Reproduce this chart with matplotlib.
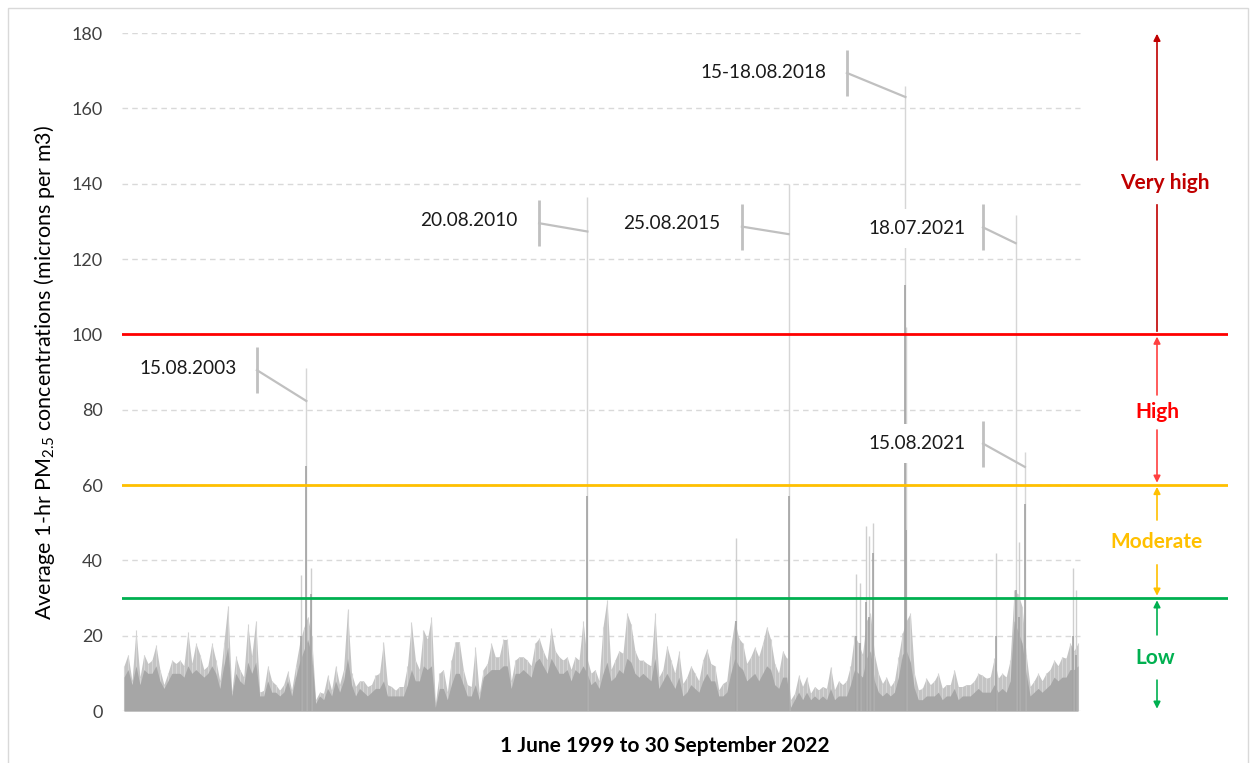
import datetime as dt
import numpy as np
import matplotlib
matplotlib.use("Agg")
import matplotlib.pyplot as plt
from matplotlib.patches import Rectangle

plt.rcParams['font.family'] = ['Lato', 'DejaVu Sans']
plt.rcParams['mathtext.fontset'] = 'custom'
plt.rcParams['mathtext.rm'] = 'Lato'
plt.rcParams['mathtext.it'] = 'Lato:italic'
plt.rcParams['mathtext.bf'] = 'Lato:bold'

# ---------------- data ----------------
season_start = 1999          # each season = 1 June .. 30 September (122 days)
n_seasons = 24
slots_per_season = 10

# upper envelope of hourly values (light grey tips), 10 slots per season
peak_levels = [
    12, 15, 8, 21.5, 9, 15, 12.6, 13.5, 17.5, 11,        # 1999
    7, 10, 13.5, 12.6, 13.5, 12, 21, 12.6, 18, 15,       # 2000
    11, 12, 18, 13.5, 8, 18, 28, 5, 14.5, 11,            # 2001
    9, 23, 14.5, 24, 5, 5.5, 12, 8, 7, 5.5,              # 2002
    7, 10.5, 5.5, 12, 18, 22, 25, 20, 3, 5,              # 2003
    4.7, 9.5, 5.5, 12, 7, 11, 27, 10, 6.5, 8,            # 2004
    8, 6.5, 7, 9.5, 10, 18.4, 7, 6.5, 5.5, 6.5,          # 2005
    6.5, 12, 23.5, 13.5, 11, 21.5, 19, 25, 2, 10,        # 2006
    11, 5, 13.5, 18.4, 18.4, 11, 7, 6.5, 17, 4.7,        # 2007
    11, 12.6, 18, 14.4, 14.4, 19, 19, 8, 13.5, 14.4,     # 2008
    14.4, 13.5, 12, 18, 19.3, 16, 13.5, 22, 16, 14.4,    # 2009
    13.5, 14.4, 11, 14.4, 13.5, 24, 14, 10, 11, 8,       # 2010
    22.4, 29.6, 11, 13.5, 16, 15.3, 26, 23, 16, 13.5,    # 2011
    13.5, 12.6, 12, 26, 9, 11, 17.3, 13.5, 10, 15.8,     # 2012
    7.3, 9, 12, 10, 8, 13.5, 16.4, 12.6, 12, 5.6,        # 2013
    7.3, 8, 17, 24, 19.3, 18, 12.6, 14.4, 17, 14.4,      # 2014
    18, 22.4, 19, 12.6, 10, 16, 14, 3, 4.7, 9.5,         # 2015
    6.5, 9, 4.7, 6.5, 5.6, 6.5, 6, 11.8, 5.6, 8,         # 2016
    7, 8, 12, 20, 18, 15, 24, 26, 15, 10,                # 2017
    7.3, 9, 6.5, 8, 14.4, 20.6, 24, 26, 10, 5.6,         # 2018
    6, 8.7, 7, 8, 10, 6, 7, 7, 11, 6.5,                  # 2019
    6.5, 7, 7, 8, 10, 9.5, 8.7, 9, 14, 8.7,              # 2020
    10, 9, 13.5, 32, 31, 27.7, 15, 6.5, 8, 10,           # 2021
    8, 10, 11, 13.5, 12, 14.4, 14, 18, 16, 18,           # 2022
]

# typical level (solid mid-grey body), same slots
typical_levels = [
    9, 11, 7, 12, 7, 11, 10, 10, 12, 8,    # 1999
    6, 8, 10, 10, 10, 9, 12, 10, 11, 10,   # 2000
    9, 10, 12, 10, 6, 12, 17, 4, 10, 8,    # 2001
    7, 13, 10, 13, 4, 4, 8, 5, 5, 4,       # 2002
    5, 8, 4, 9, 13, 16, 19, 15, 2, 4,      # 2003
    3, 6, 4, 8, 5, 8, 14, 7, 4, 6,         # 2004
    5, 4, 5, 6, 6, 8, 4, 4, 4, 4,          # 2005
    4, 7, 11, 8, 8, 12, 11, 12, 1, 6,      # 2006
    6, 3, 7, 10, 10, 7, 4, 4, 7, 3,        # 2007
    9, 10, 11, 11, 11, 12, 12, 6, 10, 10,  # 2008
    11, 10, 9, 13, 14, 12, 10, 14, 12, 10, # 2009
    10, 11, 8, 11, 10, 12, 10, 7, 8, 6,    # 2010
    10, 13, 8, 9, 11, 10, 14, 13, 10, 9,   # 2011
    10, 9, 8, 14, 6, 8, 10, 8, 6, 9,       # 2012
    4, 5, 7, 6, 5, 8, 10, 8, 8, 4,         # 2013
    4, 5, 10, 14, 12, 11, 8, 9, 10, 8,     # 2014
    10, 12, 11, 7, 6, 9, 9, 1, 3, 5,       # 2015
    3, 5, 3, 4, 3, 4, 3, 6, 3, 4,          # 2016
    4, 4, 7, 11, 10, 9, 14, 16, 8, 5,      # 2017
    4, 5, 4, 5, 9, 15, 16, 13, 6, 3,       # 2018
    3, 4, 4, 4, 5, 3, 4, 4, 6, 3,          # 2019
    4, 4, 4, 5, 6, 5, 5, 5, 7, 5,          # 2020
    6, 5, 8, 24, 21, 18, 10, 4, 5, 6,      # 2021
    5, 6, 7, 9, 8, 9, 9, 11, 11, 12,       # 2022
]

# labelled smoke events
event_dates = ['2003-08-15', '2010-08-20', '2015-08-25', '2018-08-16', '2021-07-18', '2021-08-15']
event_labels = ['15.08.2003', '20.08.2010', '25.08.2015', '15-18.08.2018', '18.07.2021', '15.08.2021']
event_max = [91, 136.5, 140, 166, 131.7, 68.8]
event_core = [65, 57, 57, 113, 32, 55]

# other short spikes
spike_dates = ['2003-07-30', '2003-08-30', '2014-07-16', '2017-07-18', '2017-07-30',
               '2017-08-18', '2017-08-27', '2017-09-08', '2018-08-19', '2020-09-17',
               '2021-07-28', '2022-09-08', '2022-09-19']
spike_max = [36, 38, 46, 36.5, 34, 49, 46.5, 50, 102, 42, 45, 38, 32]
spike_core = [20, 31, 24, 20, 18, 29, 25, 42, 48, 20, 25, 20, 15]

thresholds = [30, 60, 100]
threshold_colors = ['#00b050', '#ffc000', '#ff0000']
y_ticks = list(range(0, 181, 20))

# ---------------- layout ----------------
W, H = 1250, 763
px_per_season = 958 / n_seasons
ax_left_px, ax_right_px, ax_top_px, ax_bottom_px = 122, 1228, 33, 711

def season_pos(date_str):
    d = dt.date.fromisoformat(date_str)
    start = dt.date(d.year, 6, 1)
    return (d.year - season_start) + ((d - start).days + 0.5) / 122.0

fig = plt.figure(figsize=(W / 100, H / 100), dpi=100)
ax = fig.add_axes([ax_left_px / W, (H - ax_bottom_px) / H,
                   (ax_right_px - ax_left_px) / W, (ax_bottom_px - ax_top_px) / H])
x_max = (ax_right_px - ax_left_px) / px_per_season
ax.set_xlim(0, x_max)
ax.set_ylim(0, 180)
for s in ax.spines.values():
    s.set_visible(False)
ax.set_xticks([])
ax.set_yticks(y_ticks)
ax.tick_params(axis='y', length=0, pad=14, labelsize=13, labelcolor='#404040')

# gridlines
ax.hlines(y_ticks, 0, n_seasons, colors='#d9d9d9', linestyles=(0, (4, 3)), lw=1, zorder=0)

# series
x = (np.arange(len(peak_levels)) + 0.5) / slots_per_season
ax.fill_between(x, peak_levels, color='#c4c4c4', lw=0, zorder=1)
ax.vlines(x, 0, peak_levels, colors='#d4d4d4', lw=0.8, zorder=1.5)
ax.fill_between(x, typical_levels, color='#a6a6a6', lw=0, zorder=2)

sp = [season_pos(d) for d in spike_dates]
ax.vlines(sp, 0, spike_max, colors='#cfcfcf', lw=1, zorder=2)
ax.vlines(sp, 0, spike_core, colors='#a0a0a0', lw=1.1, zorder=3)
ep = [season_pos(d) for d in event_dates]
ax.vlines(ep, 0, event_max, colors='#d6d6d6', lw=1, zorder=2)
ax.vlines(ep, 0, event_core, colors='#a3a3a3', lw=1.2, zorder=3)

# thresholds
for t, c in zip(thresholds, threshold_colors):
    ax.axhline(t, color=c, lw=2, zorder=4)

# callouts: (text x, text y, tab x, tab mid y, leader end y) in data units
callouts = [
    (1.65, 90.8, 3.38, 90.5, 82.3),
    (8.69, 130.1, 10.45, 129.5, 127.3),
    (13.78, 129.3, 15.53, 128.6, 126.6),
    (16.06, 169.4, 18.16, 169.4, 163.0),
    (19.92, 128.0, 21.57, 128.4, 124.2),
    (19.92, 70.9, 21.57, 71.0, 64.8),
]
for (tx, ty, bx, by, ey), lab, px in zip(callouts, event_labels, ep):
    ax.text(tx, ty, lab, ha='center', va='center', fontsize=13.7, color='#1a1a1a',
            bbox=dict(fc='white', ec='none', pad=8), zorder=6)
    ax.plot([bx, bx], [by - 6.1, by + 6.1], color='#c0c0c0', lw=2, zorder=7,
            solid_capstyle='butt')
    ax.plot([bx, px], [by, ey], color='#c0c0c0', lw=1.6, zorder=7)

# right-hand band annotations
xa = (1157 - ax_left_px) / px_per_season
def arrow(y0, y1, color):
    ax.annotate('', xy=(xa, y1), xytext=(xa, y0),
                arrowprops=dict(arrowstyle='-|>', color=color, lw=1.2,
                                mutation_scale=10, shrinkA=0, shrinkB=0), zorder=5)

# Very high
arrow(146.3, 179.8, '#c00000')
ax.plot([xa, xa], [101.0, 134.3], color='#c00000', lw=1.2, zorder=5)
ax.text((1165 - ax_left_px) / px_per_season, 140.2, 'Very high', ha='center', va='center',
        fontsize=15, fontweight='bold', color='#c00000')
# High
arrow(83.9, 99.4, '#ff4040')
arrow(74.6, 60.6, '#ff4040')
ax.text(xa, 79.4, 'High', ha='center', va='center', fontsize=15, fontweight='bold', color='#ff0000')
# Moderate
arrow(50.7, 59.5, '#ffc000')
arrow(38.8, 30.6, '#ffc000')
ax.text(xa, 44.9, 'Moderate', ha='center', va='center', fontsize=15, fontweight='bold', color='#ffc000')
# Low
arrow(20.2, 29.4, '#00b050')
arrow(8.2, 0.6, '#00b050')
ax.text((1155 - ax_left_px) / px_per_season, 14.1, 'Low', ha='center', va='center',
        fontsize=15, fontweight='bold', color='#00b050')

# axis titles
fig.text(45 / W, 1 - 620 / H, 'Average 1-hr PM$_{2.5}$ concentrations (microns per m3)',
         rotation=90, ha='center', va='bottom', fontsize=15.5, color='#000000')
fig.text(665 / W, 1 - 746 / H, '1 June 1999 to 30 September 2022', ha='center', va='center',
         fontsize=15, fontweight='bold', color='#000000')

# chart border
fig.add_artist(Rectangle((8 / W, -0.01), 1240 / W, 1 - 8 / H + 0.01, transform=fig.transFigure,
                         fill=False, ec='#d9d9d9', lw=1))

fig.savefig('out.png', dpi=100)
